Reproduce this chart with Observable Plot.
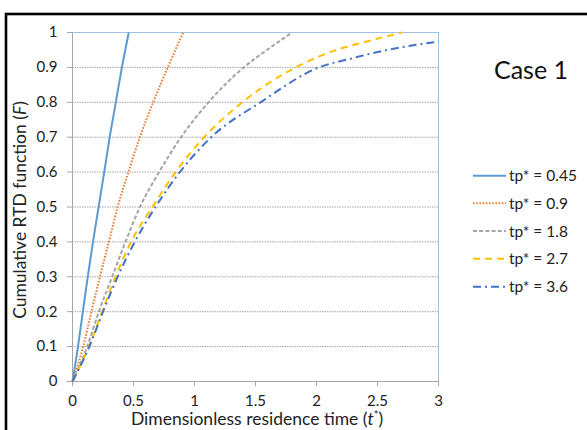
<!DOCTYPE html>
<html>
<head>
<meta charset="utf-8">
<script src="https://cdn.jsdelivr.net/npm/d3@7"></script>
<script src="https://cdn.jsdelivr.net/npm/@observablehq/plot@0.6"></script>
<style>
  html, body { margin: 0; padding: 0; background: #fff; }
  #chart { width: 587px; height: 430px; overflow: hidden; }
</style>
</head>
<body>
<div id="chart"></div>
<script>
// ---- data ----
const seriesNames = ["tp* = 0.45", "tp* = 0.9", "tp* = 1.8", "tp* = 2.7", "tp* = 3.6"];
const seriesColors = ["#5b9bd5", "#ed7d31", "#a5a5a5", "#ffc000", "#4472c4"];
const seriesDash = [null, "1.6,1.6", "4,2.2", "7,5", "8,4,2,4"];

const t045 = [0, 0.045, 0.085, 0.125, 0.168, 0.214, 0.26, 0.305, 0.355, 0.405, 0.461];
const F045 = [0, 0.1, 0.2, 0.3, 0.4, 0.5, 0.6, 0.7, 0.8, 0.9, 1.0];
const t09  = [0, 0.088, 0.155, 0.225, 0.298, 0.37, 0.458, 0.552, 0.661, 0.781, 0.907];
const F09  = [0, 0.1, 0.2, 0.3, 0.4, 0.5, 0.6, 0.7, 0.8, 0.9, 1.0];
const t18  = [0, 0.12, 0.216, 0.325, 0.434, 0.553, 0.71, 0.89, 1.115, 1.404, 1.61, 1.80];
const F18  = [0, 0.1, 0.2, 0.3, 0.4, 0.5, 0.6, 0.7, 0.8, 0.9, 0.954, 1.0];
const t27  = [0, 0.134, 0.243, 0.352, 0.48, 0.655, 0.845, 1.08, 1.391, 1.83, 2.13, 2.42, 2.70];
const F27  = [0, 0.1, 0.2, 0.3, 0.4, 0.5, 0.6, 0.7, 0.8, 0.9, 0.946, 0.975, 1.0];
const t36  = [0, 0.138, 0.25, 0.37, 0.51, 0.68, 0.88, 1.137, 1.541, 2.02, 2.28, 2.55, 3.0];
const F36  = [0, 0.1, 0.2, 0.3, 0.4, 0.5, 0.6, 0.7, 0.8, 0.9, 0.925, 0.948, 0.974];

const xTicks = [0, 0.5, 1, 1.5, 2, 2.5, 3];
const yTicks = [0, 0.1, 0.2, 0.3, 0.4, 0.5, 0.6, 0.7, 0.8, 0.9, 1];
const gridLevels = [0.1, 0.2, 0.3, 0.4, 0.5, 0.6, 0.7, 0.8, 0.9];

const tArrays = [t045, t09, t18, t27, t36];
const FArrays = [F045, F09, F18, F27, F36];
const seriesData = tArrays.map((ts, i) => ts.map((t, j) => ({t, F: FArrays[i][j], s: seriesNames[i]})));

const FONT = "Lato, 'Open Sans', sans-serif";

const lineMarks = seriesData.map((d, i) => Plot.line(d, {
  x: "t", y: "F", stroke: seriesColors[i], strokeWidth: 2,
  strokeDasharray: seriesDash[i] || undefined, curve: "monotone-x",
  strokeLinecap: "butt"
}));

const plot = Plot.plot({
  width: 587, height: 430,
  marginLeft: 72, marginRight: 149, marginTop: 32, marginBottom: 49,
  x: {domain: [0, 3]},
  y: {domain: [0, 1]},
  style: {fontFamily: FONT, fontSize: "15px", color: "#222", background: "#fff", overflow: "visible"},
  marks: [
    Plot.ruleY(gridLevels, {stroke: "#a6a6a6", strokeWidth: 1, strokeDasharray: "1.5,1"}),
    Plot.ruleY([1], {stroke: "#9dc3e6", strokeWidth: 1}),
    Plot.ruleX([3], {stroke: "#9dc3e6", strokeWidth: 1}),
    Plot.ruleX([0], {stroke: "#a6a6a6", strokeWidth: 1}),
    Plot.ruleY([0], {stroke: "#a6a6a6", strokeWidth: 1}),
    Plot.axisY({ticks: yTicks, tickSize: 5, tickPadding: 10, tickFormat: d => String(d), label: null, stroke: "#a6a6a6"}),
    Plot.axisX({ticks: xTicks, tickSize: 5, tickPadding: 9, tickFormat: d => String(d), label: null, stroke: "#a6a6a6"}),
    ...lineMarks
  ]
});

document.getElementById("chart").appendChild(plot);

// ---- decorations: frame, titles, legend ----
const svg = d3.select(plot);
svg.append("rect")
  .attr("x", 6).attr("y", 14).attr("width", 620).attr("height", 460)
  .attr("fill", "none").attr("stroke", "#000").attr("stroke-width", 2.6);

// y axis label
const yl = svg.append("text")
  .attr("transform", "translate(26,210) rotate(-90)")
  .attr("text-anchor", "middle")
  .attr("font-family", FONT).attr("font-size", 17.5).attr("fill", "#222");
yl.append("tspan").text("Cumulative RTD function (");
yl.append("tspan").attr("font-style", "italic").text("F");
yl.append("tspan").text(")");

// x axis label
const xl = svg.append("text")
  .attr("x", 257).attr("y", 425)
  .attr("text-anchor", "middle")
  .attr("font-family", FONT).attr("font-size", 17.5).attr("fill", "#222");
xl.append("tspan").text("Dimensionless residence time (");
xl.append("tspan").attr("font-style", "italic").text("t");
xl.append("tspan").attr("dy", -6).attr("font-size", 11).text("*");
xl.append("tspan").attr("dy", 6).text(")");

// Case 1
svg.append("text")
  .attr("x", 531).attr("y", 79)
  .attr("text-anchor", "middle")
  .attr("font-family", FONT).attr("font-size", 25).attr("fill", "#111")
  .text("Case 1");

// legend
const legendY = [175.7, 203.3, 231, 258.7, 286.7];
const lg = svg.append("g");
seriesNames.forEach((name, i) => {
  lg.append("line")
    .attr("x1", 473).attr("x2", 506).attr("y1", legendY[i]).attr("y2", legendY[i])
    .attr("stroke", seriesColors[i]).attr("stroke-width", 2)
    .attr("stroke-dasharray", seriesDash[i]);
  lg.append("text")
    .attr("x", 509).attr("y", legendY[i]).attr("dy", "0.36em")
    .attr("text-anchor", "start")
    .attr("font-family", FONT).attr("font-size", 15.5).attr("fill", "#222")
    .text(name);
});
</script>
</body>
</html>
